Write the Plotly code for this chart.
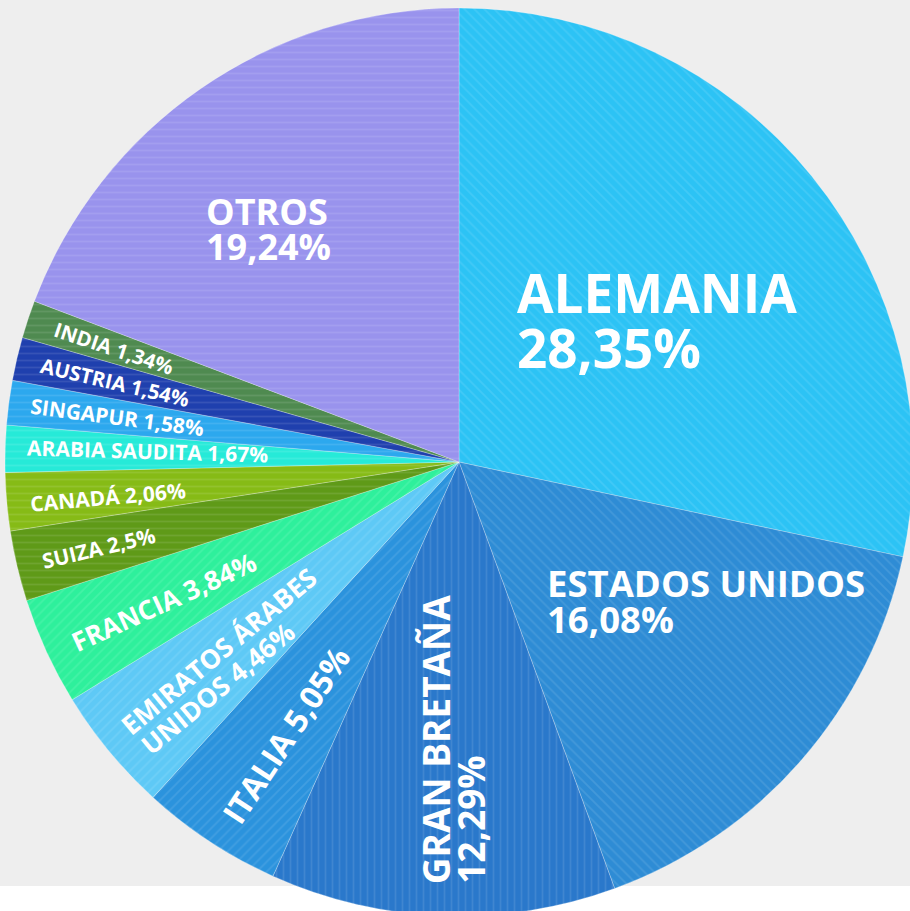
import math
import plotly.graph_objects as go

# ---------------- data ----------------
countries = ["ALEMANIA", "ESTADOS UNIDOS", "GRAN BRETAÑA", "ITALIA",
             "EMIRATOS ÁRABES UNIDOS", "FRANCIA", "SUIZA", "CANADÁ",
             "ARABIA SAUDITA", "SINGAPUR", "AUSTRIA", "INDIA", "OTROS"]
shares = [28.35, 16.08, 12.29, 5.05, 4.46, 3.84, 2.5, 2.06, 1.67, 1.58, 1.54, 1.34, 19.24]
slice_colors = ["#2cc3f5", "#2e8cd5", "#2a78cb", "#2b93dd", "#5ec9f6", "#2ef09c",
                "#5f9a18", "#86bb16", "#26ead8", "#2ca8ee", "#1f40ae", "#4f8a50", "#9993ed"]
streak_shapes = ["\\", "\\", "|", "/", "/", "/", "-", "-", "-", "-", "-", "-", "-"]

pct = [f"{v:g}".replace(".", ",") + "%" for v in shares]

# ---------------- geometry of the page ----------------
W, H = 920, 920
CX, CY, R = 459, 462, 454
GRAY_BOTTOM = 886


def px(x):
    return x / W


def py(y):
    return 1 - y / H


total = sum(shares)
mids = []
acc = 0.0
for v in shares:
    mids.append((acc + v / 2) / total * 360.0)
    acc += v


def radial_angle(theta):
    t = math.radians(theta)
    return math.degrees(math.atan2(math.cos(t), -math.sin(t)))


fig = go.Figure(go.Pie(
    labels=countries,
    values=shares,
    sort=False,
    direction="clockwise",
    rotation=0,
    textinfo="none",
    hoverinfo="skip",
    showlegend=False,
    marker=dict(
        colors=slice_colors,
        line=dict(color="rgba(255,255,255,0.25)", width=1),
        pattern=dict(shape=streak_shapes, fillmode="overlay", fgcolor="white",
                     fgopacity=0.10, size=7, solidity=0.25),
    ),
    domain=dict(x=[px(CX - R), px(CX + R)], y=[py(CY + R), py(CY - R)]),
))

# label specs: (slice index, text, x, y, xanchor, yanchor, size, orientation)
emi = countries[4].split()
label_specs = [
    (0, countries[0], 516, 292.8, "left", "middle", 53, "h"),
    (0, pct[0], 516, 347.8, "left", "middle", 53, "h"),
    (1, countries[1], 546, 583.4, "left", "middle", 36.5, "h"),
    (1, pct[1], 546, 619.4, "left", "middle", 36.5, "h"),
    (12, countries[12], 205, 211.4, "left", "middle", 36, "h"),
    (12, pct[12], 205, 246.4, "left", "middle", 36, "h"),
    (2, countries[2], 435.8, 885, "center", "bottom", 37, "v"),
    (2, pct[2], 470.3, 885, "center", "bottom", 37, "v"),
    (3, countries[3] + " " + pct[3], 285, 735, "center", "middle", 32, "r"),
    (4, " ".join(emi[:2]), 219, 651, "center", "middle", 26.5, "r"),
    (4, emi[2] + " " + pct[4], 218, 688, "center", "middle", 26.5, "r"),
    (5, countries[5] + " " + pct[5], 163.5, 602, "center", "middle", 26.5, "r"),
    (6, countries[6] + " " + pct[6], 98.5, 548, "center", "middle", 21, "r"),
    (7, countries[7] + " " + pct[7], 108, 497, "center", "middle", 21, "r"),
    (8, countries[8] + " " + pct[8], 147, 451, "center", "middle", 21, "r"),
    (9, countries[9] + " " + pct[9], 117.5, 416.5, "center", "middle", 21, "r"),
    (10, countries[10] + " " + pct[10], 115, 382, "center", "middle", 20.5, "r"),
    (11, countries[11] + " " + pct[11], 114, 347.5, "center", "middle", 20.5, "r"),
]

annotations = []
for idx, text, x, y, xa, ya, size, orient in label_specs:
    if orient == "h":
        ang = 0
    elif orient == "v":
        ang = -90
    else:
        ang = radial_angle(mids[idx])
    annotations.append(dict(
        text=text, x=px(x), y=py(y), xref="paper", yref="paper",
        xanchor=xa, yanchor=ya, showarrow=False, textangle=ang, borderpad=0,
        font=dict(family="Open Sans", size=size, color="white", weight="bold"),
    ))

fig.update_layout(
    width=W, height=H,
    margin=dict(l=0, r=0, t=0, b=0),
    paper_bgcolor="white",
    plot_bgcolor="white",
    showlegend=False,
    annotations=annotations,
    shapes=[dict(type="rect", xref="paper", yref="paper", x0=0, x1=1,
                 y0=py(GRAY_BOTTOM), y1=1, fillcolor="#eeeeee", line=dict(width=0),
                 layer="below")],
)

fig.write_html(
    "out.html",
    config={"displayModeBar": False},
    post_script="document.body.style.margin='0';document.body.style.overflow='hidden';",
)
